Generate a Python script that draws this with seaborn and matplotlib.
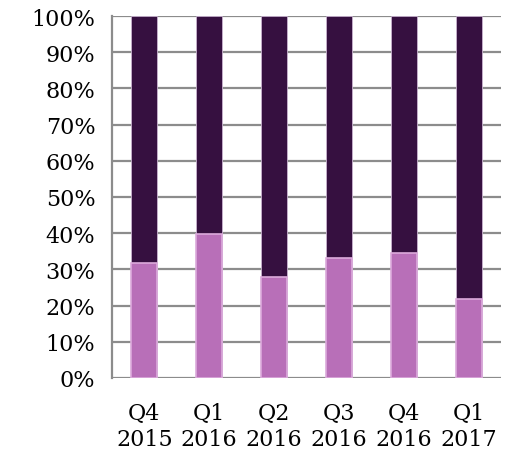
import matplotlib
matplotlib.use("Agg")
import matplotlib.pyplot as plt
import seaborn as sns
import pandas as pd
import numpy as np

categories = ["Q4\n2015", "Q1\n2016", "Q2\n2016", "Q3\n2016", "Q4\n2016", "Q1\n2017"]
lower_pct = [31.8, 39.8, 28.0, 33.1, 34.4, 21.7]
upper_pct = [68.2, 60.2, 72.0, 66.9, 65.6, 78.3]
y_ticks = [0, 10, 20, 30, 40, 50, 60, 70, 80, 90, 100]
y_labels = [f"{v}%" for v in y_ticks]

sns.set_style("white")
plt.rcParams['font.family'] = ['DejaVu Serif']

df = pd.DataFrame({"cat": categories,
                   "lower": lower_pct,
                   "total": np.array(lower_pct) + np.array(upper_pct)})

fig = plt.figure(figsize=(5.08, 4.56), dpi=100)
ax = fig.add_axes([112/508, 1 - 379/456, (501-112)/508, (379-17)/456])

grid_c = "#8c8c8c"
sns.barplot(data=df, x="cat", y="total", color="#361040", width=0.4,
            edgecolor="#c9b3d0", linewidth=0.6, saturation=1, ax=ax, zorder=3)
sns.barplot(data=df, x="cat", y="lower", color="#b86fb8", width=0.4,
            edgecolor="#dcaadc", linewidth=1.2, saturation=1, ax=ax, zorder=4)

ax.set_ylim(0, 100)
ax.set_xlim(-0.5, len(categories) - 0.5)
ax.set_yticks(y_ticks)
ax.set_yticklabels(y_labels)
ax.yaxis.grid(True, color=grid_c, linewidth=1.6, zorder=0)
ax.set_axisbelow(True)
ax.set_xlabel("")
ax.set_ylabel("")

for s in ["top", "right", "bottom"]:
    ax.spines[s].set_visible(False)
ax.spines["left"].set_color(grid_c)
ax.spines["left"].set_linewidth(1.6)

ax.tick_params(axis="y", length=7, width=1.6, color=grid_c, labelsize=16, pad=5,
               labelcolor="black")
ax.tick_params(axis="x", length=0, labelsize=16, pad=17, labelcolor="black")
ax.set_xticks(np.arange(-0.5, len(categories)), minor=True)
ax.tick_params(axis="x", which="minor", length=7, width=1.6, color=grid_c, direction="out")
for lab in ax.get_xticklabels():
    lab.set_linespacing(1.25)

fig.savefig("out.png", dpi=100)
